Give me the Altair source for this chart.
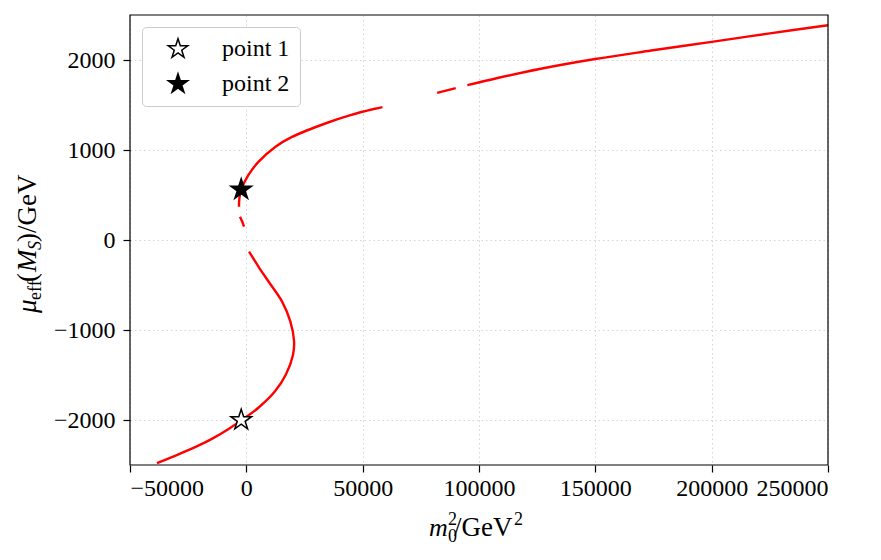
import altair as alt
import pandas as pd

# Solution curve m0^2 vs mu_eff(M_S); "piece" separates the visible stretches
mu_eff = [
    -2480, -2379, -2298, -2207, -2096, -2004, -1864, -1679, -1495, -1274,
    -1120, -904, -682, -461, -295, -128,
    148, 205, 259,
    370, 460, 560, 720, 868, 1034, 1145, 1300, 1385, 1458, 1477,
    1635, 1687,
    1720, 1800, 1900, 2011, 2105, 2202, 2296, 2387,
]
m0_sq = [
    -38400, -28940, -21760, -14630, -7450, -2200, 5190, 12410, 17000, 20070,
    20500, 18900, 15310, 9520, 5190, 1170,
    -990, -1800, -2720,
    -3160, -3000, -2200, 860, 5190, 12410, 19630, 34500, 44400, 55200, 58500,
    82000, 90000,
    95000, 108000, 126000, 149860, 174000, 200000, 225000, 250000,
]
piece = [0] * 16 + [1] * 3 + [2] * 11 + [3] * 2 + [4] * 8

# Marked benchmark points
point_names = ["point 1", "point 2"]
point_m0_sq = [-2200, -2200]
point_mu = [-2000, 560]
point_fill = ["white", "black"]

x_ticks = [-50000, 0, 50000, 100000, 150000, 200000, 250000]
y_ticks = [-2000, -1000, 0, 1000, 2000]

FONT = "Liberation Serif"
STAR = ("M0,-1L0.2245,-0.309L0.9511,-0.309L0.3633,0.118L0.5878,0.809L0,0.382"
        "L-0.5878,0.809L-0.3633,0.118L-0.9511,-0.309L-0.2245,-0.309Z")
W, H = 698, 450

curve = pd.DataFrame({"m0sq": m0_sq, "mu": mu_eff, "piece": piece,
                      "k": list(range(len(mu_eff)))})
points = pd.DataFrame({"name": point_names, "m0sq": point_m0_sq, "mu": point_mu})

x_enc = alt.X("m0sq:Q",
              scale=alt.Scale(domain=[-50000, 250000], nice=False, zero=False),
              axis=alt.Axis(values=x_ticks, format="d", title=None, labelPadding=4))
y_enc = alt.Y("mu:Q",
              scale=alt.Scale(domain=[-2500, 2500], nice=False, zero=False),
              axis=alt.Axis(values=y_ticks, format="d", title=None, labelPadding=8))

line = alt.Chart(curve).mark_line(
    color="#ff0000", strokeWidth=2.4, clip=True, interpolate="catmull-rom"
).encode(x=x_enc, y=y_enc, detail="piece:N", order="k:Q")

stars = alt.Chart(points).mark_point(
    shape=STAR, size=470, filled=True, stroke="black", strokeWidth=1.5, opacity=1
).encode(
    x=x_enc, y=y_enc,
    fill=alt.Fill("name:N",
                  scale=alt.Scale(domain=point_names, range=point_fill),
                  legend=alt.Legend(title=None, orient="none", legendX=12, legendY=12,
                                    padding=10, symbolSize=420, symbolOffset=14,
                                    symbolStrokeColor="black", symbolStrokeWidth=1.5,
                                    symbolType=STAR, labelOffset=32, rowPadding=9,
                                    labelFont=FONT, labelFontSize=24,
                                    labelColor="black",
                                    fillColor="white", strokeColor="#cccccc",
                                    cornerRadius=4)),
)

# Black box around the plotting area, drawn over the grid
frame = alt.Chart(pd.DataFrame({"f": [0]})).mark_rect(
    fill=None, stroke="black", strokeWidth=1.2
).encode(x=alt.value(0), x2=alt.value(W), y=alt.value(0), y2=alt.value(H))

# Axis titles built from pieces so sub/superscripts sit where they belong
x_title = [
    ("m", 299, 521, 26, "italic"),
    ("0", 318, 527, 18, "normal"),
    ("2", 318, 510, 18, "normal"),
    ("/GeV", 324, 521, 27, "normal"),
    ("2", 384, 510, 18, "normal"),
]
y_title = [
    ("μ", -94, 298, 27, "italic"),
    ("eff", -89, 285, 18, "normal"),
    ("(", -94, 267, 27, "normal"),
    ("M", -94, 257, 27, "italic"),
    ("S", -89, 235, 18, "italic"),
    (")/GeV", -94, 227, 27, "normal"),
]

title_layers = []
for txt, px, py, fs, style in x_title:
    title_layers.append(
        alt.Chart(pd.DataFrame({"t": [txt]})).mark_text(
            font=FONT, fontSize=fs, fontStyle=style, color="black",
            align="left", baseline="alphabetic"
        ).encode(x=alt.value(px), y=alt.value(py), text="t:N")
    )
for txt, px, py, fs, style in y_title:
    title_layers.append(
        alt.Chart(pd.DataFrame({"t": [txt]})).mark_text(
            font=FONT, fontSize=fs, fontStyle=style, color="black",
            align="left", baseline="alphabetic", angle=270
        ).encode(x=alt.value(px), y=alt.value(py), text="t:N")
    )

chart = alt.layer(line, stars, frame, *title_layers).properties(
    width=W, height=H,
    autosize=alt.AutoSizeParams(type="none"),
    padding={"left": 130, "top": 15, "right": 53, "bottom": 95},
    background="white",
).configure_axis(
    labelFont=FONT, labelFontSize=24, labelColor="black",
    tickColor="black", tickSize=7, tickWidth=1.2,
    domain=False, grid=True, gridColor="#d4d4d4", gridDash=[1.5, 3], gridWidth=1,
).configure_view(
    stroke=None
)

chart.save("out.html", embed_options={"renderer": "svg", "actions": False})
